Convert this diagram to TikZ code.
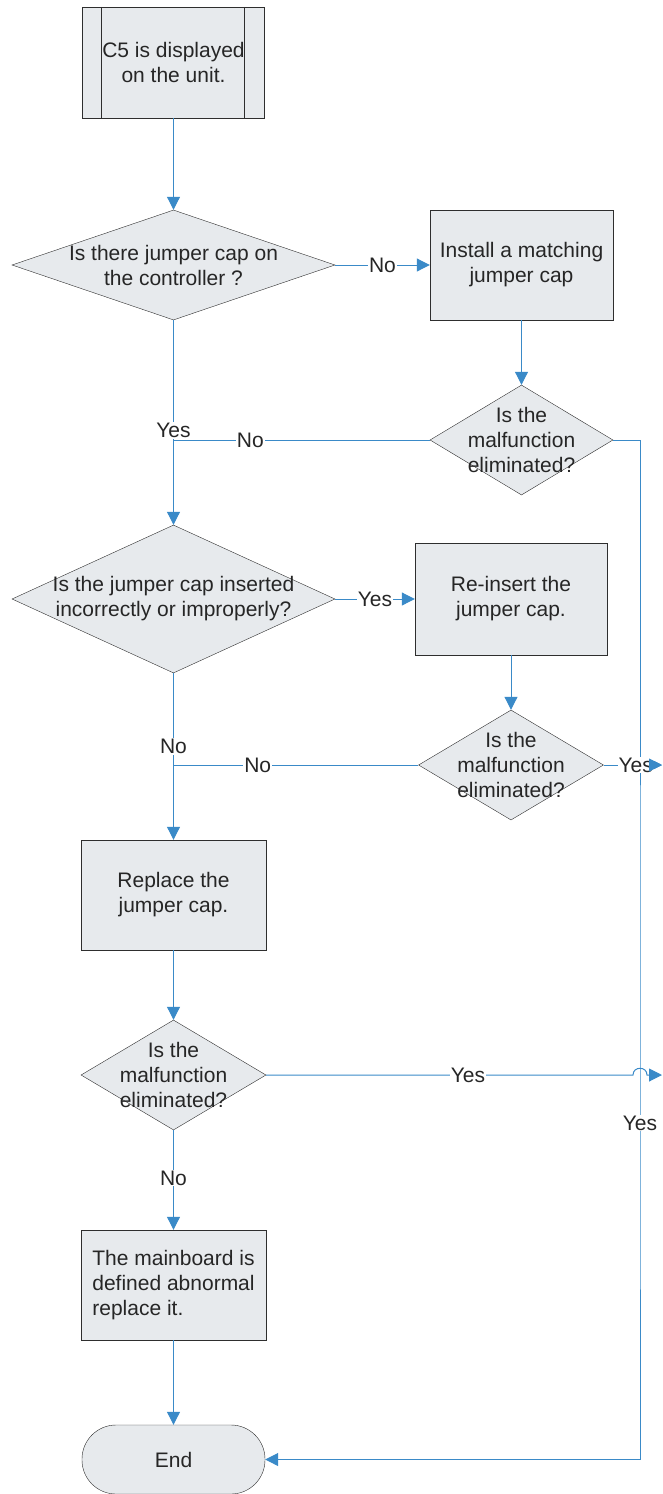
\documentclass[tikz,border=0pt]{standalone}
\usepackage{fontspec}
\setmainfont{Liberation Sans}
\usetikzlibrary{calc,arrows.meta,shapes.geometric}
\definecolor{boxgray}{HTML}{E7EAED}
\definecolor{flowblue}{HTML}{3A8AC8}
\definecolor{rimgray}{HTML}{2E2E2E}
\tikzset{%
  pbox/.style={draw=rimgray,fill=boxgray,minimum width=183pt,minimum height=110pt,align=center},
  dnode/.style={shape=diamond,draw=rimgray,fill=boxgray,inner sep=0pt,minimum width=185pt,minimum height=110pt},
  term/.style={draw=rimgray,fill=boxgray,rounded corners=34pt,minimum width=183pt,minimum height=69pt},
  fline/.style={draw=flowblue,line width=1pt},
  arr/.style={fline,-{Triangle[length=13pt,width=13pt]}},
  lbl/.style={fill=white,inner sep=1pt,text=black!85}
}
\begin{document}
\begin{tikzpicture}[x=1pt,y=-1pt,font=\fontsize{21}{25}\selectfont,text=black!85]
    \useasboundingbox (0,0) rectangle (663,1494);
    \path
      (173.5,62.5) node (start)[pbox,minimum width=182pt,minimum height=111pt]{C5 is displayed\\on the unit.}
      (173.5,265) node (d1)[dnode,minimum width=323pt,label={[align=center]center:Is there jumper cap on\\the controller ?}]{}
      (521.5,265) node (fit)[pbox]{Install a matching\\jumper cap}
      (521.5,440) node (d2)[dnode,minimum width=183pt,label={[align=center]center:Is the\\malfunction\\eliminated?}]{}
      (173.5,599) node (d3)[dnode,minimum width=323pt,minimum height=148pt,label={[align=center]center:Is the jumper cap inserted\\incorrectly or improperly?}]{}
      (511,599) node (reins)[pbox,minimum width=192pt,minimum height=112pt]{Re-insert the\\jumper cap.}
      (511,765) node (d4)[dnode,label={[align=center]center:Is the\\malfunction\\eliminated?}]{}
      (173.5,895) node (repl)[pbox,minimum width=185pt]{Replace the\\jumper cap.}
      (173.5,1075) node (d5)[dnode,label={[align=center]center:Is the\\malfunction\\eliminated?}]{}
      (173.5,1285) node (mboard)[pbox,minimum width=185pt,align=left]{The mainboard is\\defined abnormal\\replace it.}
      (173.5,1459.5) node (fin)[term]{End};
    \draw[rimgray] ($(start.north west)+(19,0)$) -- ($(start.south west)+(19,0)$);
    \draw[rimgray] ($(start.north east)+(-21,0)$) -- ($(start.south east)+(-21,0)$);
    \coordinate (rail) at (640,1123);
    \coordinate (outA) at (662,765);
    \coordinate (hopL) at (633,1075);
    \coordinate (hopR) at (647,1075);
    \coordinate (outB) at (662,1075);
    % main column
    \draw[arr] (start) -- (d1);
    \draw[arr] (d1) -- node[lbl]{No} (fit);
    \draw[arr] (fit) -- (d2);
    \draw[fline] (d2.west) -- node[lbl,pos=0.7]{No} (d2.west -| d1.south);
    \draw[arr] (d1) -- node[lbl,pos=0.54]{Yes} (d3);
    \draw[arr] (d3) -- node[lbl]{Yes} (reins);
    \draw[arr] (reins) -- (d4);
    \draw[fline] (d4.west) -- node[lbl,pos=0.656]{No} (d4.west -| d3.south);
    \draw[arr] (d3) -- node[lbl,pos=0.44]{No} (repl);
    \draw[arr] (repl) -- (d5);
    \draw[arr] (d5) -- node[lbl,pos=0.48]{No} (mboard);
    \draw[arr] (mboard) -- (fin);
    % right rail
    \draw[arr] (d2.east) -| (rail) node[lbl]{Yes} |- (fin.east);
    \draw[arr] (d4.east) -- node[lbl,pos=0.55]{Yes} (outA);
    \draw[arr,shorten <=47pt] (d4.east) -- (outA);
    \draw[arr] (d5.east) -- node[lbl,pos=0.55]{Yes} (hopL)
      .. controls ($(hopL)+(0,-9)$) and ($(hopR)+(0,-9)$) .. (hopR) -- (outB);
\end{tikzpicture}
\end{document}
